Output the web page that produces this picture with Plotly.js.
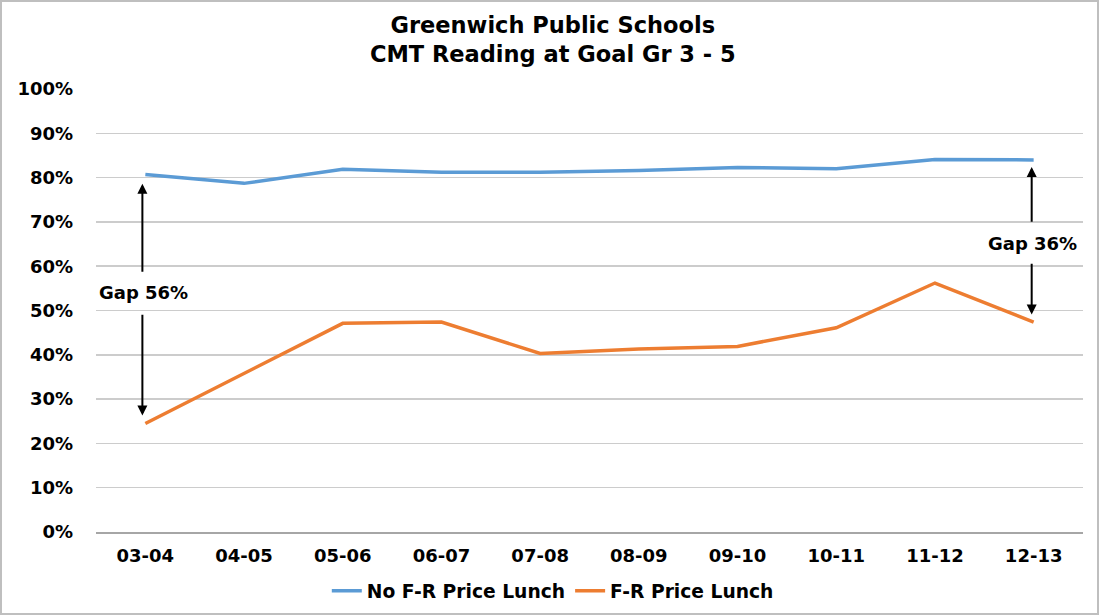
<!DOCTYPE html>
<html>
<head>
<meta charset="utf-8">
<script src="https://cdn.plot.ly/plotly-3.0.1.min.js"></script>
<style>
html,body{margin:0;padding:0;background:#fff;}
#wrap{position:relative;width:1099px;height:615px;}
#chart{width:1099px;height:615px;}
#frame{position:absolute;left:0;top:0;width:1099px;height:615px;box-sizing:border-box;border:2px solid #bfbfbf;pointer-events:none;}
</style>
</head>
<body>
<div id="wrap"><div id="chart"></div><div id="frame"></div></div>
<script>
const categories = ["03-04","04-05","05-06","06-07","07-08","08-09","09-10","10-11","11-12","12-13"];
const noFRLunch = [0.807,0.787,0.819,0.812,0.812,0.816,0.823,0.820,0.841,0.840];
const frLunch   = [0.245,0.359,0.471,0.474,0.403,0.413,0.419,0.461,0.562,0.474];
const seriesNames = ["No F-R Price Lunch","F-R Price Lunch"];
const gapLabels = ["Gap 56%","Gap 36%"];
const yTickVals = [0,0.1,0.2,0.3,0.4,0.5,0.6,0.7,0.8,0.9,1];
const yTickText = ["0%","10%","20%","30%","40%","50%","60%","70%","80%","90%","100%"];

const idx = categories.map((c,i)=>i);
const F = "DejaVu Sans, Verdana, sans-serif";

const traces = [
  {x: idx, y: noFRLunch, type:"scatter", mode:"lines", name: "<b>"+seriesNames[0]+"</b>",
   line:{color:"#5B9BD5", width:3.5}},
  {x: idx, y: frLunch, type:"scatter", mode:"lines", name: "<b>"+seriesNames[1]+"</b>",
   line:{color:"#ED7D31", width:3.5}}
];

function arrow(x, head, tail){
  return {x:x, y:head, ax:x, ay:tail, xref:"x", yref:"y", axref:"x", ayref:"y",
          text:"", showarrow:true, arrowhead:2, arrowsize:1, arrowwidth:2,
          arrowcolor:"#000", standoff:0, startstandoff:0};
}
const last = categories.length - 1;
const annotations = [
  arrow(-0.03, 0.786, 0.584),
  arrow(-0.03, 0.263, 0.494),
  arrow(last - 0.02, 0.824, 0.697),
  arrow(last - 0.02, 0.491, 0.609),
  {x:-0.015, y:0.54, xref:"x", yref:"y", text:"<b>"+gapLabels[0]+"</b>", showarrow:false,
   font:{family:F, size:18, color:"#000"}},
  {x:last - 0.015, y:0.652, xref:"x", yref:"y", text:"<b>"+gapLabels[1]+"</b>", showarrow:false,
   font:{family:F, size:18, color:"#000"}}
];

const layout = {
  width:1099, height:615,
  paper_bgcolor:"#fff", plot_bgcolor:"#fff",
  margin:{l:96, r:16, t:89, b:83},
  title:{text:"<b>Greenwich Public Schools<br>CMT Reading at Goal Gr 3 - 5</b>",
         x:0.503, xref:"container", xanchor:"center",
         y:1-33/615, yref:"container", yanchor:"middle",
         font:{family:F, size:22.5, color:"#000"}},
  xaxis:{range:[-0.5, last+0.5], tickmode:"array", tickvals:idx,
         ticktext:categories.map(c=>"<b>"+c+"</b>"),
         showgrid:false, zeroline:false, showline:true, linecolor:"#a6a6a6", linewidth:1.5,
         ticks:"", ticklabelstandoff:7,
         tickfont:{family:F, size:18, color:"#000"}},
  yaxis:{range:[0,1], tickmode:"array", tickvals:yTickVals,
         ticktext:yTickText.map(t=>"<b>"+t+"</b>"),
         showgrid:true, gridcolor:"#cccccc", gridwidth:1.5, zeroline:false,
         ticks:"", ticklabelstandoff:22,
         tickfont:{family:F, size:18, color:"#000"}},
  showlegend:true,
  legend:{orientation:"h", x:0.503, xref:"container", xanchor:"center",
          y:1-591/615, yref:"container", yanchor:"middle",
          font:{family:F, size:18.7, color:"#000"}, itemwidth:30, tracegroupgap:0,
          bgcolor:"rgba(0,0,0,0)"},
  annotations: annotations
};
Plotly.newPlot("chart", traces, layout, {displayModeBar:false, staticPlot:true});
</script>
</body>
</html>
